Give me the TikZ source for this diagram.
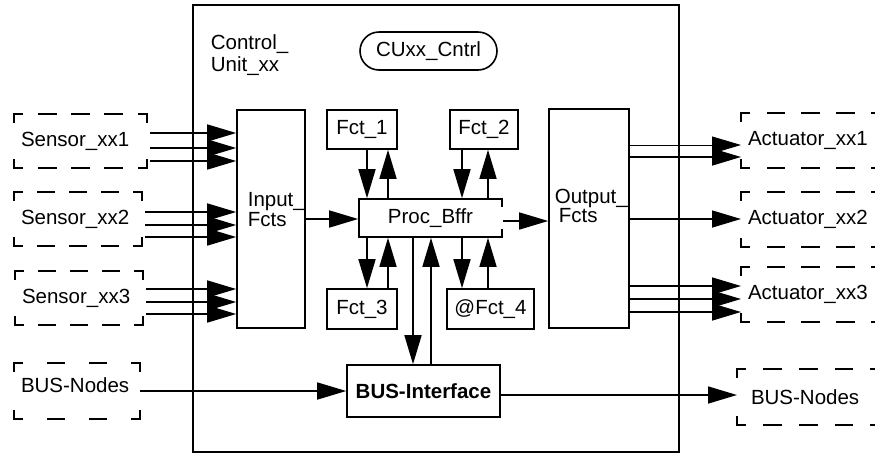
\documentclass[tikz,border=0pt]{standalone}
\usepackage{fontspec}
\setmainfont{Liberation Sans}
\usetikzlibrary{arrows.meta}
% dashed side with half dashes at both corners
\newcommand\dside[2]{%
  \pgfpointdiff{\pgfpointanchor{#1}{center}}{\pgfpointanchor{#2}{center}}%
  \pgfgetlastxy{\dsx}{\dsy}%
  \pgfmathsetmacro\dslen{veclen(\dsx,\dsy)}%
  \pgfmathsetmacro\dsn{max(1,floor(\dslen/32))}%
  \pgfmathsetmacro\dsoff{\dslen/\dsn-17}%
  \draw[dash pattern=on 17pt off \dsoff pt, dash phase=8.5pt, line cap=rect] (#1) -- (#2);}
\newcommand\dashedframe[1]{%
  \coordinate (dnw) at (#1.north west);
  \coordinate (dne) at (#1.north east);
  \coordinate (dse) at (#1.south east);
  \coordinate (dsw) at (#1.south west);
  \dside{dnw}{dne}\dside{dne}{dse}\dside{dse}{dsw}\dside{dsw}{dnw}}
\begin{document}
\begin{tikzpicture}[x=1pt,y=-1pt, line width=1.6pt,
  every node/.style={font=\fontsize{20.5}{15}\selectfont, inner sep=0pt},
  dbox/.style={outer sep=0pt, anchor=west, align=left, inner xsep=7pt, inner ysep=0pt},
  arr/.style={-{Triangle[length=29pt,width=17pt]}}]
\useasboundingbox (0,0) rectangle (875,456);
\clip (0,0) rectangle (875,456);
% control unit
\node[draw, minimum width=486pt, minimum height=447pt] (cu) at (436,228.5) {};
\node[anchor=north west, align=left, font=\fontsize{20.5}{22}\selectfont] (cutxt) at (210,34) {Control\_\\Unit\_xx};
\node[draw, rounded corners=19pt, minimum width=137pt, minimum height=38pt] (cux) at (428.5,51) {CUxx\_Cntrl};
% input / output
\node[draw, minimum width=68pt, minimum height=218pt] (in) at (271,219) {};
\node[anchor=north west, align=left] (intxt) at (247,192) {Input\_\\Fcts};
\node[draw, minimum width=80pt, minimum height=219pt] (out) at (589,218.5) {};
\node[anchor=north west, align=left] (outtxt) at (554,188) {Output\_\\\hspace*{4pt}Fcts};
% functions
\node[draw, minimum width=70pt, minimum height=39pt] (f1) at (362,129.5) {Fct\_1};
\node[draw, minimum width=68pt, minimum height=39pt] (f2) at (484,129.5) {Fct\_2};
\node[draw, minimum width=70pt, minimum height=40pt] (f3) at (362,309) {Fct\_3};
\node[draw, minimum width=87pt, minimum height=40pt] (f4) at (490.5,309) {@Fct\_4};
\node[draw, minimum width=143pt, minimum height=38pt] (proc) at (430.5,218) {Proc\_Bffr};
\node[draw, minimum width=153pt, minimum height=52pt, font={\fontsize{20.5}{15}\selectfont\bfseries}] (bus) at (423.5,391) {BUS-Interface};
% sensors
\node[dbox, text width=119pt, minimum height=54pt] (s1) at (14,141) {Sensor\_xx1};
\node[dbox, text width=114pt, minimum height=54pt] (s2) at (14,219) {Sensor\_xx2};
\node[dbox, text width=114pt, minimum height=54pt] (s3) at (15,298) {Sensor\_xx3};
\node[dbox, text width=112pt, minimum height=56pt] (bl) at (14,391) {\raisebox{12pt}{BUS-Nodes}};
% actuators
\node[dbox, text width=160pt, minimum height=55pt] (a1) at (741,140.5) {Actuator\_xx1};
\node[dbox, text width=160pt, minimum height=55pt] (a2) at (741,219.5) {Actuator\_xx2};
\node[dbox, text width=160pt, minimum height=55pt] (a3) at (741,294.5) {Actuator\_xx3};
\node[dbox, inner xsep=14pt, text width=150pt, minimum height=56pt] (br) at (737,397) {BUS-Nodes};
\dashedframe{s1}\dashedframe{s2}\dashedframe{s3}\dashedframe{bl}
\dashedframe{a1}\dashedframe{a2}\dashedframe{a3}\dashedframe{br}
% sensor arrows
\foreach \y in {133,148,161} \draw[arr] ([xshift=3pt]s1.east |- 0,\y) -- (in.west |- 0,\y);
\foreach \y in {212,225,237} \draw[arr] ([xshift=3pt]s2.east |- 0,\y) -- (in.west |- 0,\y);
\foreach \y in {289,302,314} \draw[arr] ([xshift=3pt]s3.east |- 0,\y) -- (in.west |- 0,\y);
% actuator arrows
\draw[arr, line width=0.9pt] (out.east |- 0,145) -- (a1.west |- 0,145);
\draw[arr] (out.east |- 0,157) -- (a1.west |- 0,157);
\draw[arr] (out.east |- 0,219) -- (a2.west |- 0,219);
\foreach \y in {286,299,312} \draw[arr] (out.east |- 0,\y) -- (a3.west |- 0,\y);
% function arrows
\draw[arr] (f1.south -| 367,0) -- (proc.north -| 367,0);
\draw[arr] (proc.north -| 388,0) -- (f1.south -| 388,0);
\draw[arr] (f2.south -| 462,0) -- (proc.north -| 462,0);
\draw[arr] (proc.north -| 488,0) -- (f2.south -| 488,0);
\draw[arr] (proc.south -| 367,0) -- (f3.north -| 367,0);
\draw[arr] (f3.north -| 388,0) -- (proc.south -| 388,0);
\draw[arr] (proc.south -| 462,0) -- (f4.north -| 462,0);
\draw[arr] (f4.north -| 488,0) -- (proc.south -| 488,0);
\draw[arr] (proc.south -| 413,0) -- (bus.north -| 413,0);
\draw[arr] (bus.north -| 431,0) -- (proc.south -| 431,0);
% buffer flow
\draw[white, line width=2.6pt] ([xshift=-0.8pt,yshift=-9pt]proc.north east) -- ([xshift=-0.8pt,yshift=9pt]proc.south east);
\draw[arr] (in.east |- 0,219) -- (proc.west |- 0,219);
\draw[arr] (proc.east |- 0,221) -- (out.west |- 0,221);
% bus
\draw[arr] (bl.east |- 0,391) -- (bus.west |- 0,391);
\draw[arr] (bus.east |- 0,395) -- (br.west |- 0,395);
\end{tikzpicture}
\end{document}
